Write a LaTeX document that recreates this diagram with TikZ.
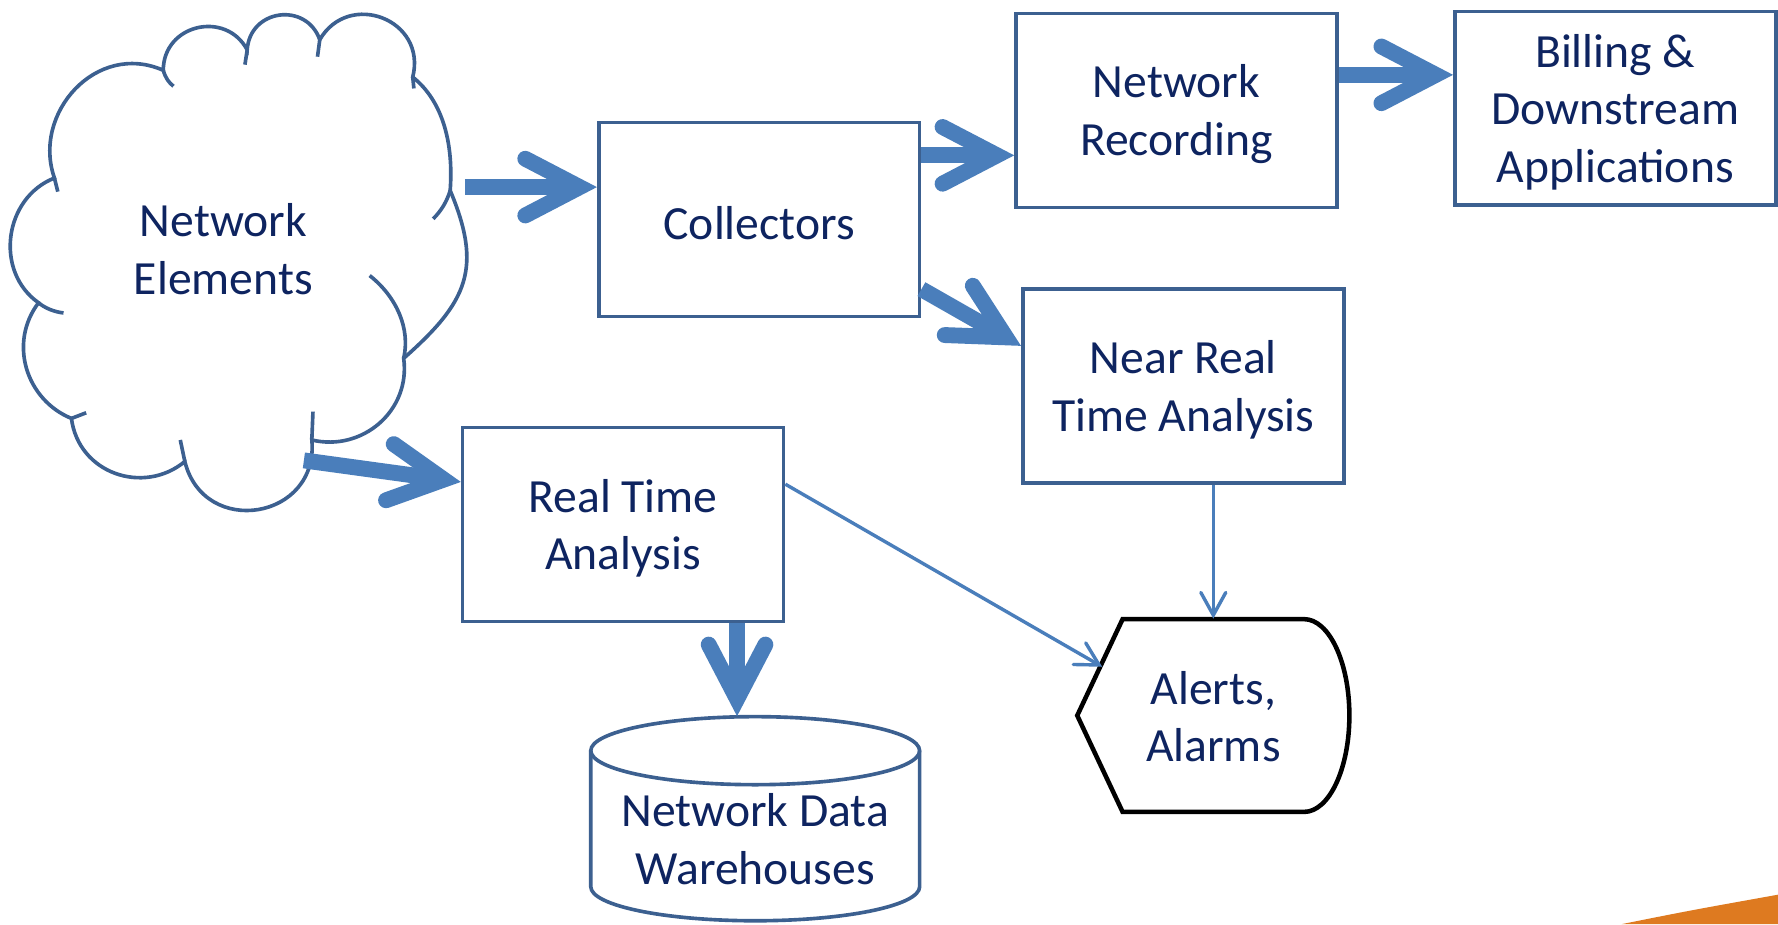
\documentclass[tikz,border=0pt]{standalone}
\usepackage{fontspec}
\setmainfont{Carlito}
\usetikzlibrary{arrows.meta,calc}
\definecolor{boxc}{RGB}{60,96,144}
\definecolor{arrc}{RGB}{74,126,187}
\definecolor{txtc}{RGB}{14,36,96}
\definecolor{orng}{RGB}{222,122,32}
\begin{document}
\begin{tikzpicture}[x=0.5pt,y=-0.5pt,
  txt/.style={align=center, text=txtc, font=\fontsize{21}{25.5}\selectfont, inner sep=0pt},
  box/.style={draw=boxc, line width=1.6pt, fill=white, minimum width=141.5pt, minimum height=85.5pt, inner sep=0pt,
    label={[txt, yshift=-1.7pt]center:#1}},
  outl/.style={draw=boxc, line width=1.6pt},
  fat/.style={draw=arrc, line width=7pt, -{Straight Barb[length=24pt,width=25pt,line cap=round,line join=miter]}},
  slim/.style={draw=arrc, line width=1.5pt, -{Straight Barb[length=10pt,width=11pt,line cap=round,line join=miter]}}]

\fill[white] (0,0) rectangle (1568,815);
\useasboundingbox (0,0) rectangle (1568,815);

% cloud
\path[outl, fill=white] (144,62) .. controls (85,36) and (28,100) .. (48,157)
 .. controls (3.4,174.5) and (-5.2,239.5) .. (34,267)
 .. controls (7.1,302.4) and (23,352.6) .. (63,369)
 .. controls (69.3,417.8) and (126.8,436.9) .. (163,407)
 .. controls (179.9,474.9) and (281.5,458.4) .. (275,388)
 .. controls (319.3,398.6) and (362.3,362.4) .. (356,316)
 .. controls (412,266.5) and (426,237) .. (397,168)
 .. controls (400,128) and (391.3,89.7) .. (364,68)
 .. controls (376.7,17) and (307.5,-9) .. (282,35)
 .. controls (270,1.2) and (220.2,8) .. (218,44)
 .. controls (199.2,8.6) and (144,21.4) .. (144,62) -- cycle;
\draw[outl] (144,62) .. controls (146,69) and (149,73) .. (153,76);
\draw[outl] (218,44) -- (216,57);
\draw[outl] (282,35) -- (280,50);
\draw[outl] (364,68) -- (365,78);
\draw[outl] (397,168) .. controls (394,178) and (389,186) .. (382,193);
\draw[outl] (356,316) .. controls (362,290) and (350,262) .. (326,243);
\draw[outl] (275,388) -- (276,363);
\draw[outl] (163,407) -- (159,388);
\draw[outl] (63,369) -- (76,364);
\draw[outl] (34,267) .. controls (40,272) and (48,275) .. (56,276);
\draw[outl] (48,157) -- (51,169);
\node[txt] (ne) at (197,220) {Network\\Elements};
\coordinate (neA) at (410,165);
\coordinate (neB) at (268,406);

% boxes
\node[box={Collectors}] (col) at (669.5,193.5) {};
\node[box={Network\\Recording}] (nr) at (1037.5,97.5) {};
\node[box={Billing \&\\Downstream\\Applications}] (bill) at (1424.5,95.5) {};
\node[box={Near Real\\Time Analysis}] (nrt) at (1043.5,340.5) {};
\node[box={Real Time\\Analysis}] (rta) at (549.5,462.5) {};

% data warehouse cylinder
\node[inner sep=0pt, minimum width=145pt, minimum height=90pt] (dw) at (666,722) {};
\draw[outl, fill=white] (521,662) -- (521,782) arc[start angle=180,end angle=360,x radius=72.5pt,y radius=15pt] -- (811,662);
\draw[outl] (666,662) ellipse [x radius=72.5pt, y radius=15pt];
\node[txt] (dwt) at (666,740) {Network Data\\Warehouses};

% alerts (display shape)
\node[txt, minimum width=120pt, minimum height=85pt] (al) at (1070,631) {};
\draw[black, line width=2pt, fill=white] (990,546) -- (1150,546) arc[start angle=90,end angle=-90,x radius=20pt,y radius=42.5pt] -- (990,716) -- (950,631) -- cycle;
\node[txt] (alt) at (1070,632) {Alerts,\\Alarms};

% connectors
\draw[fat] (neA) -- ($(col.west)+(0,-28.5)$);
\draw[fat] ($(col.east)+(0,-56.5)$) -- ($(nr.west)+(0,39.5)$);
\draw[fat] ($(col.east)+(0,61.5)$) -- ($(nrt.west)+(0,-35.5)$);
\draw[fat] ($(nr.east)+(0,-31.5)$) -- ($(bill.west)+(0,-29.5)$);
\draw[fat] (neB) -- ($(rta.west)+(0,-37.5)$);
\draw[fat] ($(rta.south)+(100.5,0)$) -- ($(dw.north)+(-16,0)$);
\draw[slim] ($(rta.east)+(0,-35.5)$) -- ($(al.center)+(-98,-43)$);
\draw[slim] ($(nrt.south)+(26.5,0)$) -- (al.north);

% orange corner
\fill[orng] (1430,815) .. controls (1490,803) .. (1568,789) -- (1568,815) -- cycle;
\end{tikzpicture}
\end{document}
